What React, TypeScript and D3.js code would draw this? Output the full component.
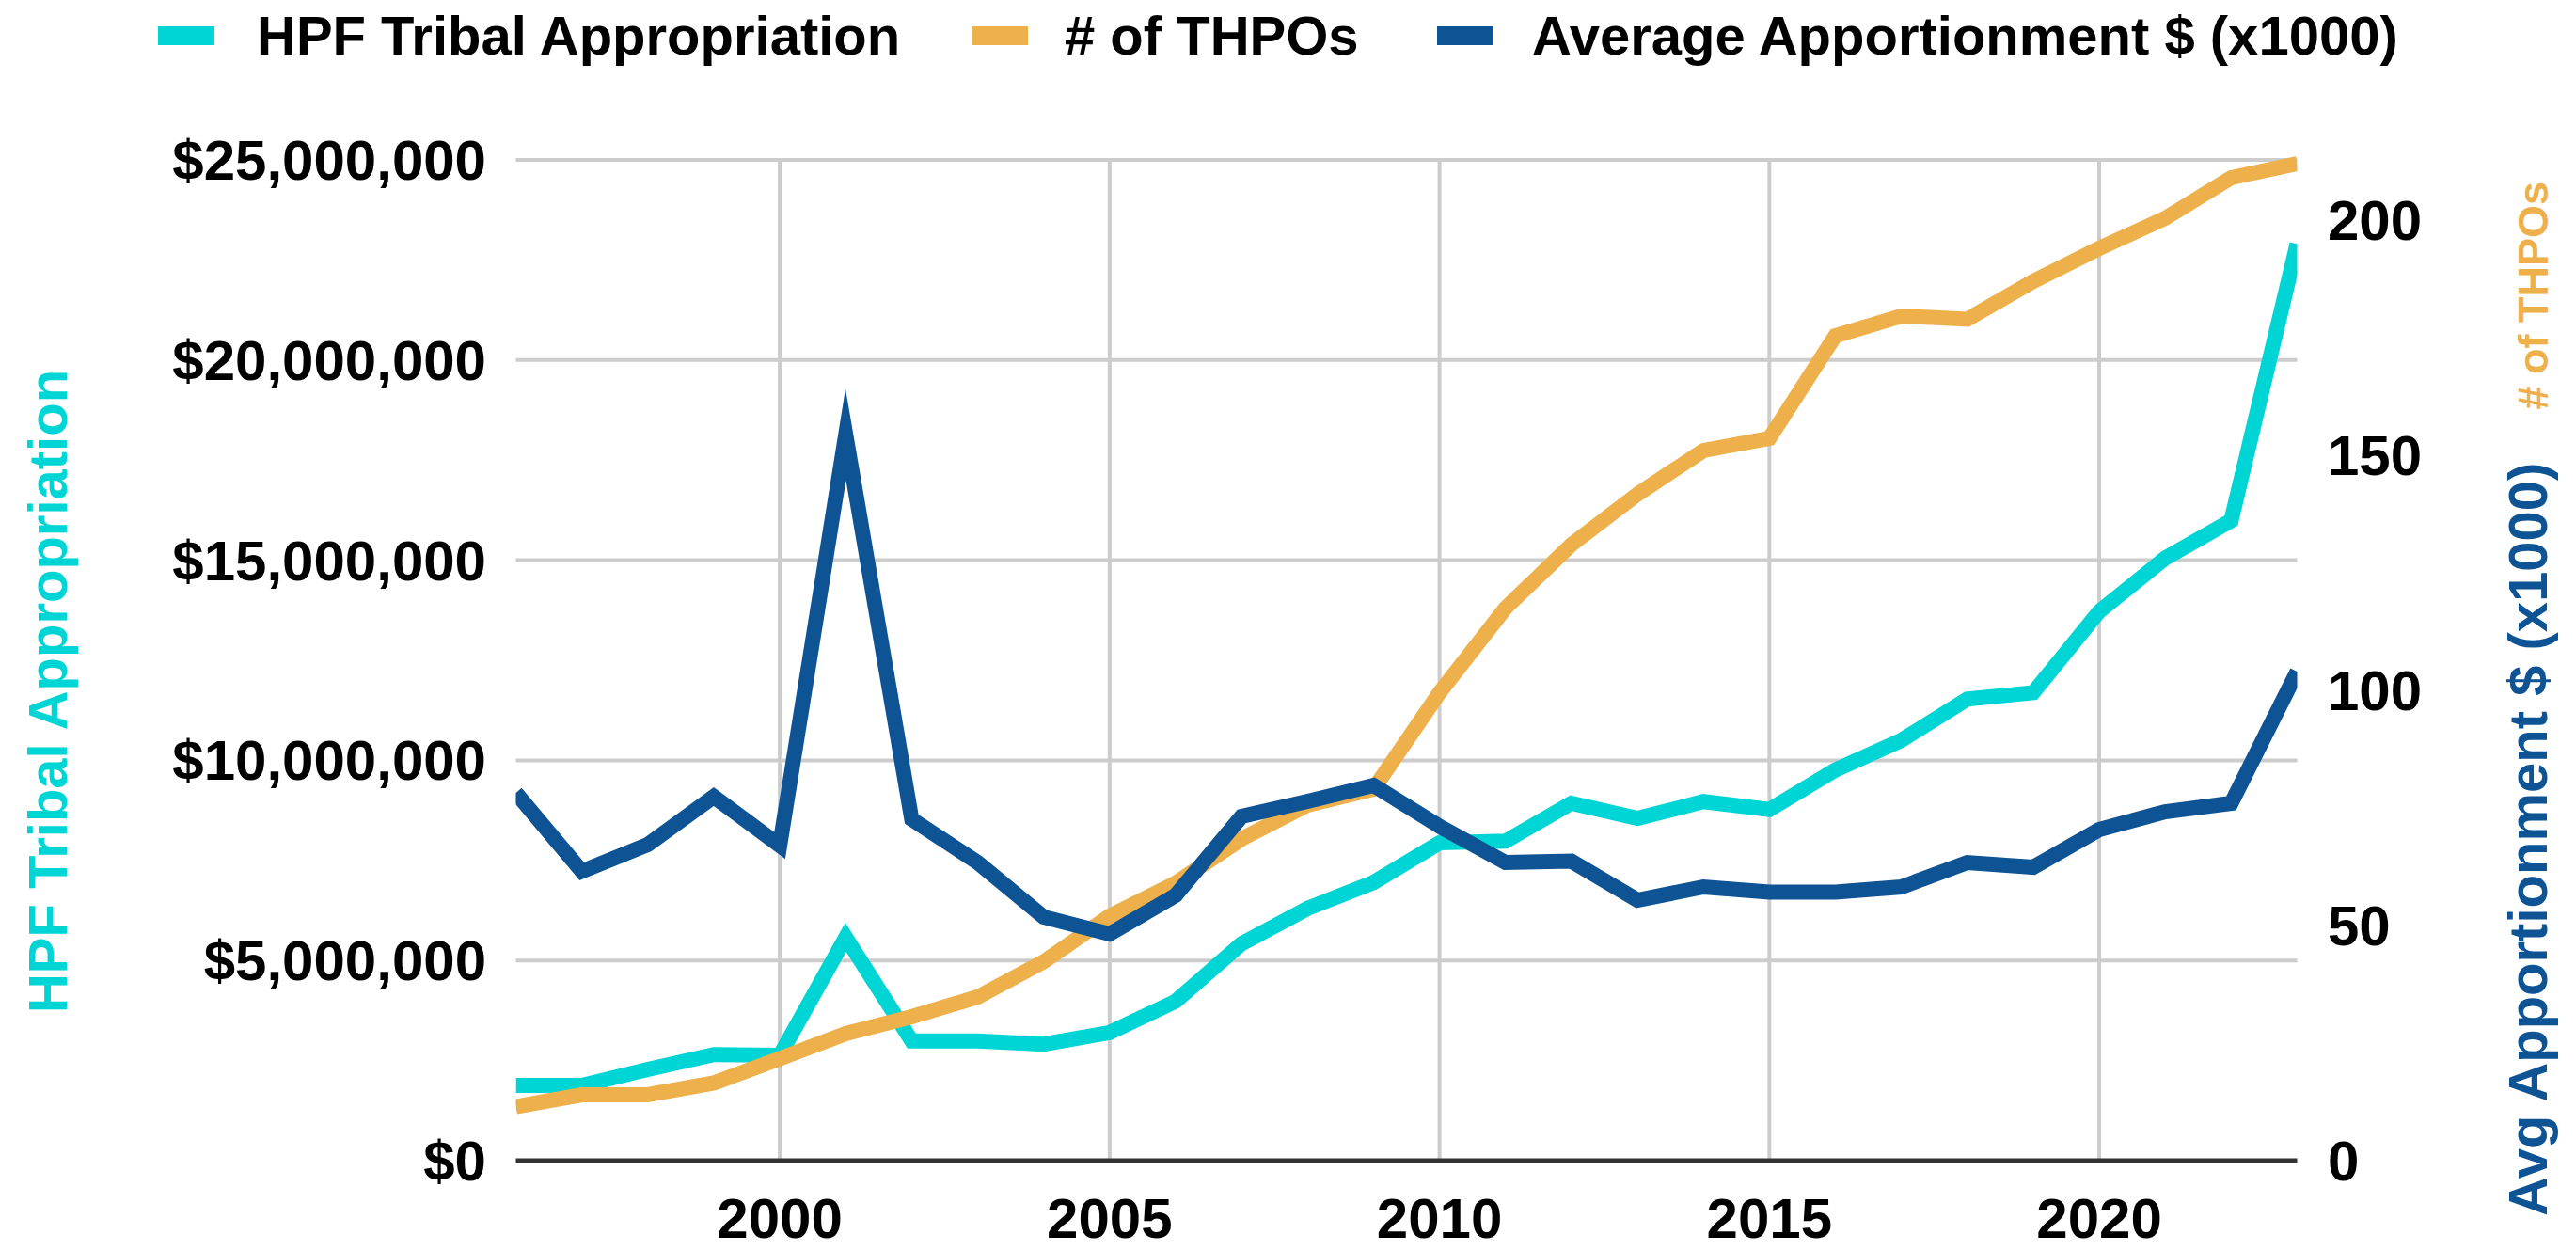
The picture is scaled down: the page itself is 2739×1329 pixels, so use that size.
import React from 'react';
import * as d3 from 'd3';

// data
const years = [
  1996, 1997, 1998, 1999, 2000, 2001, 2002, 2003, 2004, 2005, 2006, 2007, 2008, 2009,
  2010, 2011, 2012, 2013, 2014, 2015, 2016, 2017, 2018, 2019, 2020, 2021, 2022, 2023,
];
const hpfAppropriation = [
  1880000, 1880000, 2280000, 2650000, 2630000, 5580000, 2990000, 2990000, 2910000, 3200000,
  3980000, 5420000, 6300000, 6950000, 7940000, 7980000, 8930000, 8550000, 8970000, 8770000,
  9760000, 10500000, 11530000, 11690000, 13720000, 15050000, 15990000, 22900000,
];
const thpoCount = [
  11.5, 14, 14, 16.5, 21.7, 27, 30.6, 34.8, 42.3, 52, 59, 68.4, 75.6, 79,
  99.5, 117.5, 131, 141.7, 151, 153.6, 175.4, 179.6, 178.9, 187, 194, 200.4, 209, 212,
];
const avgApportionment = [
  78.2, 61.5, 67.2, 77.4, 67, 154.4, 72.6, 63.4, 51.8, 48.2, 56.4, 73.2, 76.4, 79.8,
  71.1, 63.4, 63.7, 55.4, 58.2, 57.1, 57.1, 58.2, 63.4, 62.4, 70.4, 74.2, 76, 104,
];
const yearTicks = [2000, 2005, 2010, 2015, 2020];
const leftTicks = [0, 5000000, 10000000, 15000000, 20000000, 25000000];
const rightTicks = [0, 50, 100, 150, 200];

const CYAN = '#00d5d5';
const ORANGE = '#edb04b';
const BLUE = '#0e5394';
const FONT = '"Liberation Sans", Arial, sans-serif';

const W = 2739;
const H = 1329;
const plot = { left: 548.5, right: 2442.5, top: 170, bottom: 1234 };

export default function App() {
  const x = d3.scaleLinear().domain([1996, 2023]).range([plot.left, plot.right]);
  const yLeft = d3.scaleLinear().domain([0, 25000000]).range([plot.bottom, plot.top]);
  const yRight = d3.scaleLinear().domain([0, 212.8]).range([plot.bottom, plot.top]);
  const fmtMoney = d3.format('$,.0f');

  const mkLine = (vals: number[], y: d3.ScaleLinear<number, number>) =>
    d3
      .line<number>()
      .x((_, i) => x(years[i]))
      .y((d) => y(d))(vals) || '';

  const series = [
    { vals: hpfAppropriation, y: yLeft, color: CYAN },
    { vals: thpoCount, y: yRight, color: ORANGE },
    { vals: avgApportionment, y: yRight, color: BLUE },
  ];

  const legend = [
    { label: 'HPF Tribal Appropriation', color: CYAN, sx: 168, tx: 273 },
    { label: '# of THPOs', color: ORANGE, sx: 1033, tx: 1132 },
    { label: 'Average Apportionment $ (x1000)', color: BLUE, sx: 1528, tx: 1629 },
  ];

  return (
    <>
      <style>{`body{margin:0;background:#fff}`}</style>
      <svg width={W} height={H} style={{ display: 'block' }} fontFamily={FONT} fontWeight="bold">
        <defs>
          <clipPath id="plotClip">
            <rect x={plot.left} y={0} width={plot.right - plot.left} height={H} />
          </clipPath>
        </defs>
        <rect width={W} height={H} fill="#fff" />

        {/* legend */}
        {legend.map((l) => (
          <g key={l.label}>
            <rect x={l.sx} y={28} width={60} height={20} fill={l.color} />
            <text x={l.tx} y={58} fontSize={58} fill="#000">
              {l.label}
            </text>
          </g>
        ))}

        {/* grid */}
        {leftTicks.slice(1).map((t) => (
          <line key={t} x1={plot.left} x2={plot.right} y1={yLeft(t)} y2={yLeft(t)} stroke="#cccccc" strokeWidth={4} />
        ))}
        {yearTicks.map((t) => (
          <line key={t} x1={x(t)} x2={x(t)} y1={plot.top} y2={plot.bottom} stroke="#cccccc" strokeWidth={4} />
        ))}
        <line x1={plot.left} x2={plot.right} y1={yLeft(0)} y2={yLeft(0)} stroke="#333" strokeWidth={5} />

        {/* series */}
        <g clipPath="url(#plotClip)">
          {series.map((s) => (
            <path
              key={s.color}
              d={mkLine(s.vals, s.y)}
              fill="none"
              stroke={s.color}
              strokeWidth={16}
              strokeLinejoin="miter"
              strokeMiterlimit={10}
            />
          ))}
        </g>

        {/* left axis */}
        {leftTicks.map((t) => (
          <text key={t} x={517} y={yLeft(t) + 21} fontSize={60} textAnchor="end" fill="#000">
            {fmtMoney(t)}
          </text>
        ))}
        {/* right axis */}
        {rightTicks.map((t) => (
          <text key={t} x={2475} y={yRight(t) + 21} fontSize={60} fill="#000">
            {t}
          </text>
        ))}
        {/* x axis */}
        {yearTicks.map((t) => (
          <text key={t} x={x(t)} y={1316} fontSize={60} textAnchor="middle" fill="#000">
            {t}
          </text>
        ))}

        {/* axis titles */}
        <text transform="translate(71,735) rotate(-90)" fontSize={58} textAnchor="middle" fill={CYAN}>
          HPF Tribal Appropriation
        </text>
        <text transform="translate(2708,1293) rotate(-90)" fontSize={58} fill={BLUE}>
          Avg Apportionment $ (x1000)
        </text>
        <text transform="translate(2709,193) rotate(-90)" fontSize={45} textAnchor="end" fill={ORANGE}>
          # of THPOs
        </text>
      </svg>
    </>
  );
}
